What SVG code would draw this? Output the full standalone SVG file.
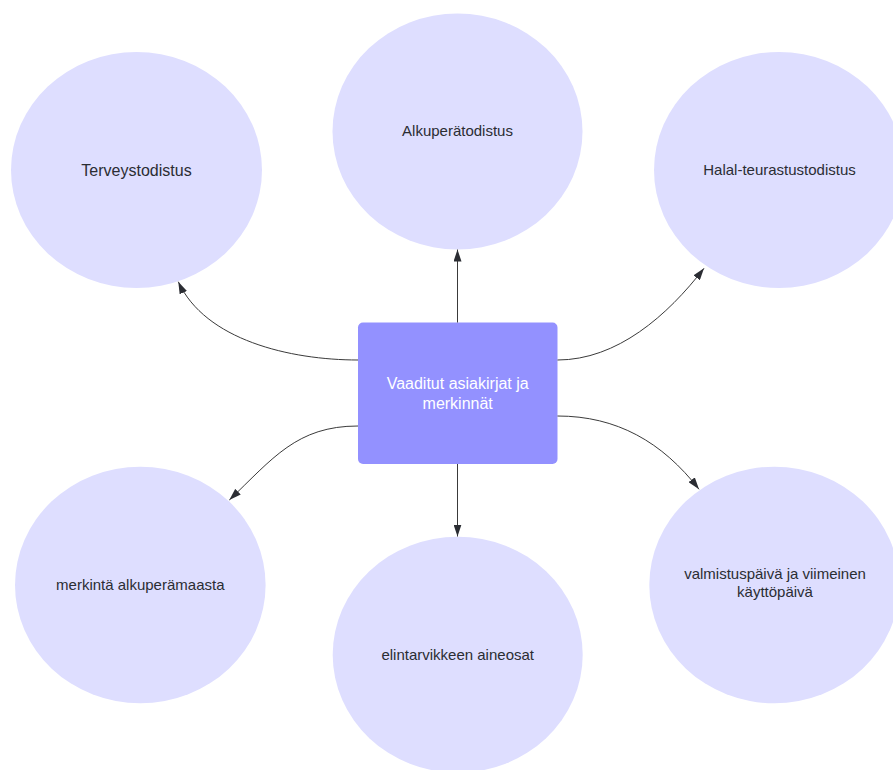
<svg xmlns="http://www.w3.org/2000/svg" width="893" height="770" viewBox="0 0 893 770">
<style>
.c{fill:#dedeff;}
.t{font-family:"Liberation Sans",Arial,sans-serif;font-size:15px;fill:#2b2d33;text-anchor:middle;}
.w{font-family:"Liberation Sans",Arial,sans-serif;font-size:16px;fill:#ffffff;text-anchor:middle;}
.e{fill:none;stroke:#3a3a3a;stroke-width:1;}
</style>
<defs>
<marker id="ah" viewBox="0 0 12 8" refX="12" refY="4" markerWidth="12" markerHeight="8" markerUnits="userSpaceOnUse" orient="auto">
<path d="M0,0 L12,4 L0,8 Z" fill="#2b2d33"/>
</marker>
</defs>
<rect width="893" height="770" fill="#ffffff"/>
<g id="n-terveys">
<ellipse class="c" cx="136.5" cy="170" rx="125.5" ry="118"/>
<text class="t" x="136.5" y="175.5" style="font-size:16px">Terveystodistus</text>
</g>
<g id="n-alkupera">
<ellipse class="c" cx="457.5" cy="131.5" rx="125" ry="118"/>
<text class="t" x="457.5" y="136">Alkuperätodistus</text>
</g>
<g id="n-halal">
<ellipse class="c" cx="779" cy="170" rx="125" ry="118"/>
<text class="t" x="779.5" y="174.5">Halal-teurastustodistus</text>
</g>
<g id="n-center">
<rect x="358" y="322.5" width="199.5" height="141.5" rx="5" fill="#9391ff"/>
<text class="w" x="457.7" y="388.5">Vaaditut asiakirjat ja</text>
<text class="w" x="457.7" y="408.5">merkinnät</text>
</g>
<g id="n-merkinta">
<ellipse class="c" cx="140.3" cy="585" rx="125.3" ry="118.3"/>
<text class="t" x="140.3" y="589.5">merkintä alkuperämaasta</text>
</g>
<g id="n-elintarvike">
<ellipse class="c" cx="457.7" cy="654.7" rx="125" ry="118"/>
<text class="t" x="457.7" y="659.5">elintarvikkeen aineosat</text>
</g>
<g id="n-valmistus">
<ellipse class="c" cx="774.3" cy="585" rx="125" ry="118.3"/>
<text class="t" x="775" y="579">valmistuspäivä ja viimeinen</text>
<text class="t" x="775" y="597">käyttöpäivä</text>
</g>
<g id="connectors">
<path class="e" marker-end="url(#ah)" d="M358,360 C290,360 205,340 178.3,281.7"/>
<path class="e" marker-end="url(#ah)" d="M457.5,322.5 L457.5,249.5"/>
<path class="e" marker-end="url(#ah)" d="M557.5,360 C617,360 667.5,315.6 704,268.3"/>
<path class="e" marker-end="url(#ah)" d="M358,426 C296.7,426 272.7,458.6 229.3,500"/>
<path class="e" marker-end="url(#ah)" d="M457.5,464 L457.5,536.5"/>
<path class="e" marker-end="url(#ah)" d="M557.5,416 C616.7,416 662.3,442 699,489.3"/>
</g>
</svg>
